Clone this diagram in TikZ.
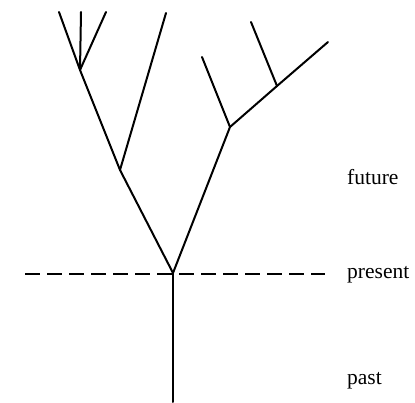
\documentclass[tikz,border=0pt]{standalone}
\usepackage{fontspec}
\setmainfont{Liberation Serif}
\begin{document}
\begin{tikzpicture}[x=1pt,y=1pt,
  branch/.style={line width=2pt,line cap=round},
  nowline/.style={line width=1.6pt,dash pattern=on 15pt off 7pt},
  lbl/.style={anchor=west,inner sep=0pt,font=\fontsize{21.5}{24}\selectfont}]
\useasboundingbox (0,0) rectangle (415,402);
% nodes (y = 402 - pixel row)
\coordinate (root) at (173,129);
\coordinate (bottom) at (173,0);
\coordinate (L) at (120,232);
\coordinate (LL) at (80,332);
\coordinate (LLa) at (59,390);
\coordinate (LLb) at (81,390);
\coordinate (LLc) at (106,390);
\coordinate (LR) at (166,389);
\coordinate (R) at (230,275);
\coordinate (RL) at (202,345);
\coordinate (RR) at (277,316);
\coordinate (RRa) at (251,380);
\coordinate (RRb) at (328,360);
\coordinate (dl) at (25,128);
\coordinate (dr) at (325,128);
% present line
\draw[nowline] (dl) -- (dr);
% tree
\draw[branch] (bottom) -- (root);
\draw[branch] (root) -- (L);
\draw[branch] (root) -- (R);
\draw[branch] (L) -- (LL);
\draw[branch] (L) -- (LR);
\draw[branch] (LL) -- (LLa);
\draw[branch] (LL) -- (LLb);
\draw[branch] (LL) -- (LLc);
\draw[branch] (R) -- (RL);
\draw[branch] (R) -- (RR);
\draw[branch] (RR) -- (RRa);
\draw[branch] (RR) -- (RRb);
% labels
\node[lbl] (future) at (347,225) {future};
\node[lbl] (present) at (347,127) {present};
\node[lbl] (past) at (347,21) {past};
\end{tikzpicture}
\end{document}
